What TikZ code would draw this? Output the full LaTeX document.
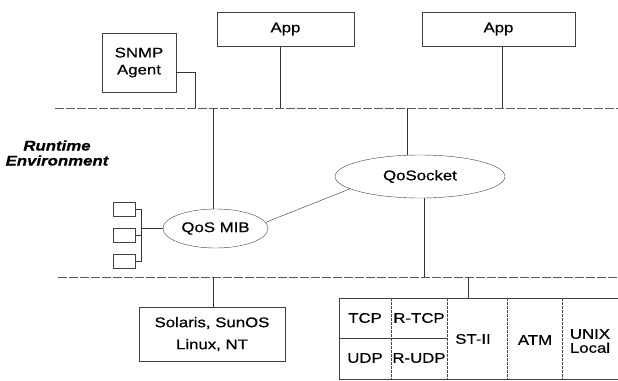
\documentclass[tikz,border=0pt]{standalone}
\usepackage{fontspec}
\setmainfont{Liberation Sans}[FakeStretch=1.2, FakeBold=0.6]
\usetikzlibrary{positioning,shapes.geometric}

\begin{document}
\begin{tikzpicture}[x=1pt, y=-1pt, font=\fontsize{14}{17}\selectfont, node distance=12pt,
	box/.style={draw=black!75, rectangle, inner sep=0pt, align=center},
	oval/.style={draw=black!75, ellipse, inner sep=0pt},
	tiny/.style={draw=black!75, rectangle, minimum width=22pt, minimum height=14pt},
	bus/.style={black!65, dash pattern=on 9pt off 2pt},
	wire/.style={black!80},
	cell/.style={align=center}]
	\useasboundingbox (0,0) rectangle (618,380);
	\clip (0,0) rectangle (618,380);

	% buses
	\coordinate (busT_w) at (55,108);
	\coordinate (busT_e) at (618,108);
	\coordinate (busB_w) at (58,277);
	\coordinate (busB_e) at (618,277);
	\draw[bus] (busT_w) -- (busT_e);
	\draw[bus] (busB_w) -- (busB_e);

	\node[font=\fontsize{14}{15}\selectfont\bfseries\itshape, align=center] (rt) at (57,153) {Runtime\\Environment};

	% upper layer
	\node[box, minimum width=137pt, minimum height=34pt] (app1) at (285.5,29) {App};
	\node[box, minimum width=153pt, minimum height=34pt] (app2) at (498.5,29) {App};
	\node[box, minimum width=74pt, minimum height=59pt] (snmp) at (139,62.5) {SNMP\\Agent};

	% runtime
	\node[oval, minimum width=170pt, minimum height=43pt] (sock) at (420,176.5) {QoSocket};
	\node[oval, minimum width=105pt, minimum height=39pt] (mib) at (215.5,228.5) {QoS MIB};
	\node[tiny] (s1) at (124,209) {};
	\node[tiny, below=12pt of s1] (s2) {};
	\node[tiny, below=11pt of s2] (s3) {};

	% lower layer
	\node[box, minimum width=146pt, minimum height=54pt, font=\fontsize{14}{22}\selectfont] (os) at (212,334) {Solaris, SunOS\\Linux, NT};
	\coordinate (tab_nw) at (339,298);
	\coordinate (tab_se) at (640,379);
	\draw[black!75] (tab_nw) rectangle (tab_se);
	\draw[black!75] (339,338) -- (447,338);
	\foreach \x in {391,447,507,562}
		\draw[black!75, dash pattern=on 3pt off 1pt] (\x,298) -- (\x,379);
	\node[cell] (tcp) at (365,318) {TCP};
	\node[cell] (rtcp) at (419,318) {R-TCP};
	\node[cell] (udp) at (365,358) {UDP};
	\node[cell] (rudp) at (419,358) {R-UDP};
	\node[cell] (st) at (473,339) {ST-II};
	\node[cell] (atm) at (535,340) {ATM};
	\node[cell, font=\fontsize{14}{14}\selectfont] (unix) at (590,341) {UNIX\\Local};

	% taps
	\coordinate (t_snmp) at (195,108);
	\coordinate (t_app1) at (280,108);
	\coordinate (t_app2) at (502,108);
	\coordinate (t_mib) at (213,108);
	\coordinate (t_sock) at (407,108);
	\coordinate (b_sock) at (424,277);
	\coordinate (b_os) at (213,277);
	\coordinate (b_tab) at (468,277);
	\coordinate (brk) at (141,228.5);

	\draw[wire] ([yshift=-9.5pt]snmp.east) -| (t_snmp);
	\draw[wire] (t_app1 |- app1.south) -- (t_app1);
	\draw[wire] (t_app2 |- app2.south) -- (t_app2);
	\draw[wire] (t_mib) -- (t_mib |- mib.north);
	\draw[wire] (t_sock) -- (t_sock |- sock.north);
	\draw[wire] (b_sock |- sock.south) -- (b_sock);
	\draw[wire] (b_os) -- (b_os |- os.north);
	\draw[wire] (b_tab) -- (b_tab |- tab_nw);
	\draw[wire] (mib.7) -- (sock.190);
	\draw[wire] (s1.east) -| (brk |- s3.east) -- (s3.east);
	\draw[wire] (s2.east) -- (brk |- s2.east);
	\draw[wire] (brk) -- (mib.west);
\end{tikzpicture}
\end{document}
